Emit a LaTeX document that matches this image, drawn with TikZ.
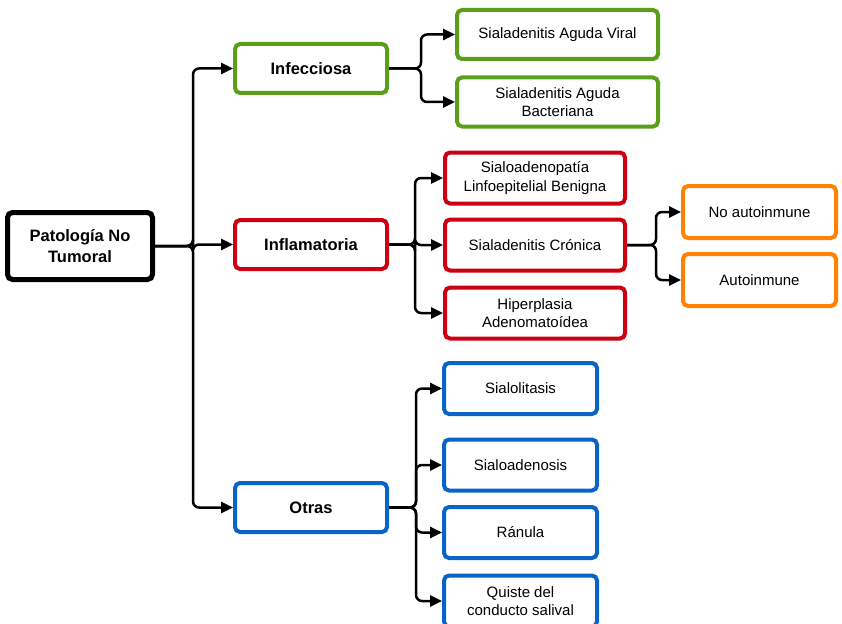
\documentclass[tikz,border=0pt]{standalone}
\usepackage{fontspec}
\setmainfont{Liberation Sans}
\usetikzlibrary{arrows.meta}
\definecolor{cGreen}{HTML}{5A9E1A}
\definecolor{cRed}{HTML}{CC0010}
\definecolor{cOrange}{HTML}{FF8200}
\definecolor{cBlue}{HTML}{0A64C8}

\begin{document}
\begin{tikzpicture}[x=1pt, y=-1pt,
    box/.style={draw, rounded corners=5pt, line width=4pt, fill=white, align=center, inner sep=0pt, font=\fontsize{15}{18.5}\selectfont},
    catbox/.style={box, minimum width=152pt, minimum height=49pt, font=\bfseries\fontsize{16.5}{21}\selectfont},
    infbox/.style={box, draw=cGreen, minimum width=201pt, minimum height=49pt},
    inflbox/.style={box, draw=cRed, minimum width=180pt, minimum height=51pt},
    autobox/.style={box, draw=cOrange, minimum width=153pt, minimum height=52pt},
    otrbox/.style={box, draw=cBlue, minimum width=153pt, minimum height=51pt},
    arr/.style={-{Triangle[length=12pt, width=11pt]}, line width=2.5pt, rounded corners=6pt}
]
    \useasboundingbox (0,0) rectangle (842,623);

    % Root
    \node[box, line width=5pt, minimum width=145pt, minimum height=67pt, font=\bfseries\fontsize{16.5}{21}\selectfont] (root) at (80,246) {Patología No\\Tumoral};

    % Categories
    \node[catbox, draw=cGreen] (inf) at (311,68.5) {Infecciosa};
    \node[catbox, draw=cRed] (infl) at (311,244.5) {Inflamatoria};
    \node[catbox, draw=cBlue] (otr) at (311,507.5) {Otras};

    % Infecciosa
    \node[infbox] (viral) at (557.5,34.5) {Sialadenitis Aguda Viral};
    \node[infbox] (bact) at (557.5,102) {Sialadenitis Aguda\\Bacteriana};

    % Inflamatoria
    \node[inflbox] (sialo) at (535,178) {Sialoadenopatía\\Linfoepitelial Benigna};
    \node[inflbox] (cron) at (535,245) {Sialadenitis Crónica};
    \node[inflbox] (hiper) at (535,313) {Hiperplasia\\Adenomatoídea};

    % Cronica
    \node[autobox] (noauto) at (759.5,212) {No autoinmune};
    \node[autobox] (auto) at (759.5,280) {Autoinmune};

    % Otras
    \node[otrbox] (lit) at (520.5,388.5) {Sialolitasis};
    \node[otrbox] (aden) at (520.5,465) {Sialoadenosis};
    \node[otrbox] (ran) at (520.5,532.5) {Ránula};
    \node[otrbox] (quis) at (520.5,601) {Quiste del\\conducto salival};

    % Arrows
    \foreach \t in {inf, infl, otr}
        \draw[arr] (root.east) -- ++(38,0) |- (\t.west);
    \foreach \t in {viral, bact}
        \draw[arr] (inf.east) -- ++(32,0) |- (\t.west);
    \foreach \t in {sialo, cron, hiper}
        \draw[arr] (infl.east) -- ++(26,0) |- (\t.west);
    \foreach \t in {noauto, auto}
        \draw[arr] (cron.east) -- ++(29,0) |- (\t.west);
    \foreach \t in {lit, aden, ran, quis}
        \draw[arr] (otr.east) -- ++(27,0) |- (\t.west);
\end{tikzpicture}
\end{document}
